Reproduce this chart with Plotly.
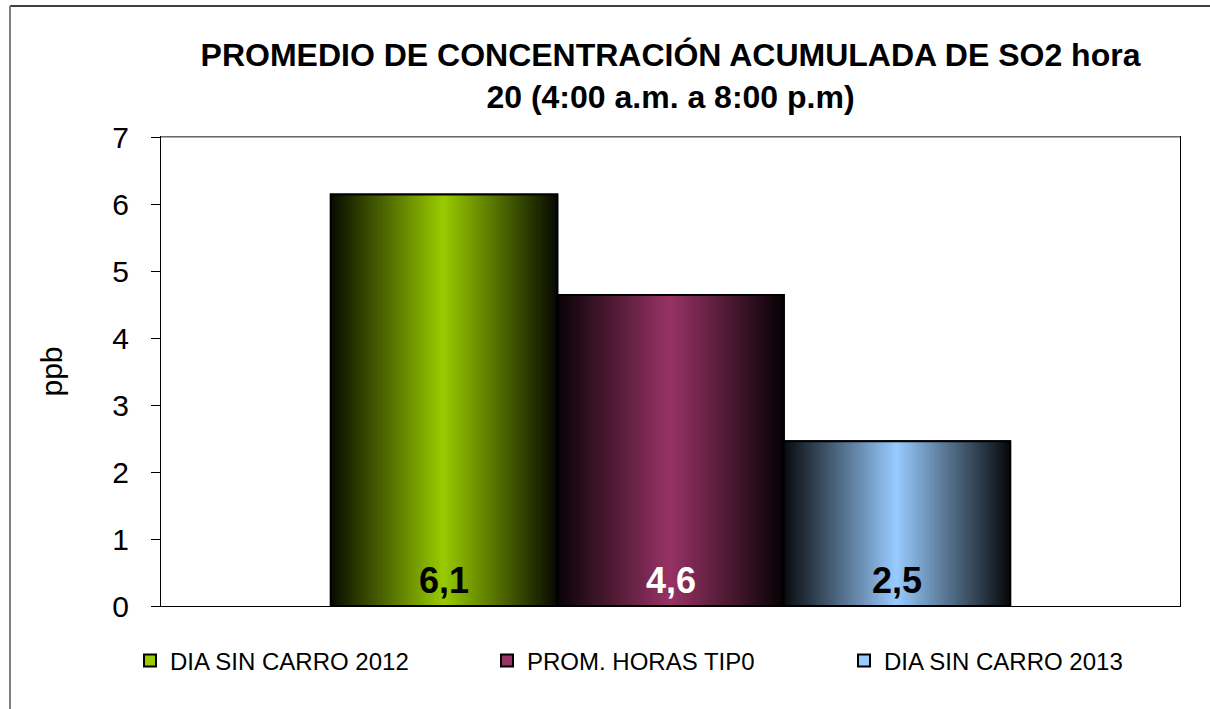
import plotly.graph_objects as go

## Data

series = ["DIA SIN CARRO 2012", "PROM. HORAS TIP0", "DIA SIN CARRO 2013"]
values = [6.14, 4.64, 2.46]
colors = ["#99CC00", "#993366", "#99CCFF"]
label_colors = ["black", "white", "black"]
y_ticks = [0, 1, 2, 3, 4, 5, 6, 7]

title_text = "<b>PROMEDIO DE CONCENTRACIÓN ACUMULADA DE SO2 hora<br>20 (4:00 a.m. a 8:00 p.m)</b>"

## Layout constants (pixels)

W, H = 1210, 709
ML, MR, MT, MB = 161, 30, 137, 103
PW = W - ML - MR
PH = H - MT - MB
N_STRIPS = 90  # strips used to fake the horizontal gradient of each bar


def px(x):
    # pixel x -> paper x
    return (x - ML) / PW


def py(y):
    # pixel y -> paper y
    return (H - MB - y) / PH


def shade(hexcolor, t):
    # darken towards black, t=0 at bar centre, t=1 at the edge
    r, g, b = (int(hexcolor[k:k + 2], 16) for k in (1, 3, 5))
    k = 1 - 0.95 * t
    return "rgb(%d,%d,%d)" % (r * k, g * k, b * k)


fig = go.Figure()

for i, (name, v, c) in enumerate(zip(series, values, colors)):
    # plain bar, carries the legend entry
    fig.add_trace(go.Bar(x=[i], y=[v], width=1, name=name,
                         marker=dict(color=c, line=dict(color="black", width=2)),
                         hoverinfo="skip"))
    # gradient strips on top
    xs = [i - 0.5 + (k + 0.5) / N_STRIPS for k in range(N_STRIPS)]
    cs = [shade(c, abs(x - i) / 0.5) for x in xs]
    fig.add_trace(go.Bar(x=xs, y=[v] * N_STRIPS, width=1.6 / N_STRIPS,
                         marker=dict(color=cs, line=dict(width=0)),
                         showlegend=False, hoverinfo="skip"))
    # outline again so the strips do not hide it
    fig.add_trace(go.Bar(x=[i], y=[v], width=1,
                         marker=dict(color="rgba(0,0,0,0)", line=dict(color="black", width=2)),
                         showlegend=False, hoverinfo="skip"))

# value labels at the foot of each bar
for i, v in enumerate(values):
    fig.add_annotation(x=i, y=0, yanchor="bottom", yshift=3, showarrow=False,
                       text="<b>" + ("%.1f" % v).replace(".", ",") + "</b>",
                       font=dict(family="Liberation Sans Narrow, Arial Narrow, Liberation Sans",
                                 size=36, color=label_colors[i]))

fig.update_xaxes(
    range=[-1.25, 3.25],
    showticklabels=False,
    ticks="",
    showgrid=False,
    zeroline=False,
    showline=True,
    linecolor="black",
    linewidth=1,
    mirror=True)

fig.update_yaxes(
    range=[0, 7],
    tickvals=y_ticks,
    ticks="outside",
    ticklen=9,
    tickcolor="black",
    ticklabelstandoff=16,
    showgrid=False,
    zeroline=False,
    showline=True,
    linecolor="black",
    linewidth=1,
    mirror=True,
    tickfont=dict(size=30, color="black"),
    title=dict(text="ppb", font=dict(size=30, color="black"), standoff=40))

fig.update_layout(
    title=dict(text=title_text, x=(ML + PW / 2) / W,
               xanchor="center", y=1 - 66 / H, yanchor="middle",
               font=dict(size=32, color="black")),
    barmode="overlay",
    width=W,
    height=H,
    margin=dict(l=ML, r=MR, t=MT, b=MB, pad=0),
    font=dict(family="Liberation Sans, Arial, sans-serif", color="black"),
    plot_bgcolor="white",
    paper_bgcolor="white",
    legend=dict(orientation="h", x=px(130), xanchor="left", y=py(661), yanchor="middle",
                font=dict(size=24, color="black"), entrywidth=312, entrywidthmode="pixels",
                traceorder="normal"),
    shapes=[
        dict(type="line", xref="paper", yref="paper", x0=px(10), x1=px(W), y0=py(6), y1=py(6),
             line=dict(color="black", width=1.5)),
        dict(type="line", xref="paper", yref="paper", x0=px(10), x1=px(10), y0=py(6), y1=py(H),
             line=dict(color="#808080", width=2)),
        # top edge of the plot box is grey in the original
        dict(type="line", xref="paper", yref="paper", x0=0, x1=1, y0=1, y1=1,
             line=dict(color="#909090", width=1.5)),
    ])

# drop the page margin so the figure sits at the window corner
fig.write_html("out.html", config={"displayModeBar": False},
               post_script="document.body.style.margin='0';")
